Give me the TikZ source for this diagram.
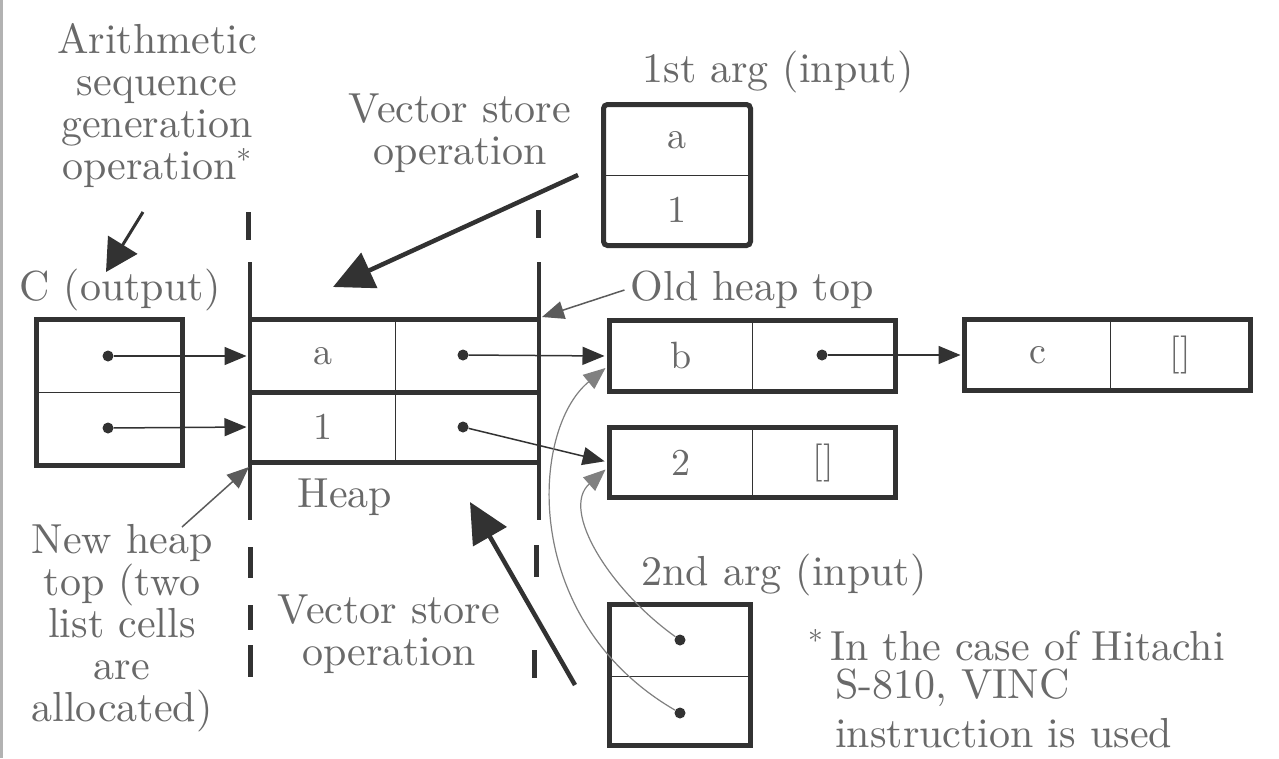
\documentclass[tikz,border=0pt]{standalone}
\usepackage{fontspec}
\setmainfont{lmroman10-regular.otf}
\usetikzlibrary{arrows.meta}
\definecolor{ink}{RGB}{50,50,50}
\definecolor{txt}{RGB}{105,105,105}
\begin{document}
\begin{tikzpicture}[x=1pt,y=-1pt,
  lbl/.style={text=txt, font=\fontsize{42}{42}\selectfont, inner sep=0pt, align=center},
  cell/.style={draw=ink, line width=1pt, inner sep=0pt, text=txt, font=\fontsize{38}{38}\selectfont},
  frame/.style={draw=ink, line width=4.5pt},
  ptr/.style={draw=ink, line width=1.5pt, -{Triangle[length=22pt,width=18pt]}},
  bigarrow/.style={draw=ink, line width=4.5pt, -{Triangle[length=40pt,width=38pt]}},
  dotc/.style={circle, fill=ink, inner sep=0pt, minimum size=11pt},
  dashseg/.style={draw=ink, line width=5pt}
]
\useasboundingbox (0,0) rectangle (1279,758);
\fill[white] (0,0) rectangle (1279,758);
\draw[gray!60, line width=3pt] (1.5,0) -- (1.5,758);

% ---------- labels ----------
\node[lbl] (arith) at (157,106) {Arithmetic\\sequence\\generation\\operation\textsuperscript{*}};
\node[lbl] (cout) at (120,290) {C (output)};
\node[lbl] (vs1) at (460,133) {Vector store\\operation};
\node[lbl] (arg1) at (778,72) {1st arg (input)};
\node[lbl] (oht) at (752,290) {Old heap top};
\node[lbl] (heap) at (345,497) {Heap};
\node[lbl] (arg2) at (784,575) {2nd arg (input)};
\node[lbl] (vs2) at (389,634) {Vector store\\operation};
\node[lbl] (nht) at (122,628) {New heap\\top (two\\list cells\\are\\allocated)};
\node[lbl, anchor=west] (fn1) at (808,645) {\textsuperscript{*}\,In the case of Hitachi};
\node[lbl, anchor=west] (fn2) at (835,688) {S-810, VINC};
\node[lbl, anchor=west] (fn3) at (835,733) {instruction is used};

% ---------- C (output) ----------
\node[cell, minimum width=145pt, minimum height=72pt] (cT) at (109.5,356) {};
\node[cell, minimum width=145pt, minimum height=73pt] (cB) at (109.5,428.5) {};
\draw[frame] (cT.north west) rectangle (cB.south east);
\node[dotc] (cd1) at (108,356) {};
\node[dotc] (cd2) at (108,428) {};

% ---------- heap ----------
\node[cell, minimum width=145pt, minimum height=72pt] (hTL) at (322.5,356) {a};
\node[cell, minimum width=145pt, minimum height=72pt] (hTR) at (467.5,356) {};
\node[cell, minimum width=145pt, minimum height=70pt] (hBL) at (322.5,427) {1};
\node[cell, minimum width=145pt, minimum height=70pt] (hBR) at (467.5,427) {};
\draw[frame] (hTL.north west) -- (hTR.north east);
\draw[frame] (hTL.south west) -- (hTR.south east);
\draw[frame] (hBL.south west) -- (hBR.south east);
\node[dotc] (hd1) at (463,355) {};
\node[dotc] (hd2) at (463,427) {};

% heap boundaries (new and old heap top)
\coordinate (lA) at (250,262); \coordinate (lB) at (250,520);
\coordinate (rA) at (539,262); \coordinate (rB) at (539,520);
\draw[frame] (lA) -- (lB);
\draw[frame] (rA) -- (rB);
\draw[dashseg] (248,212) -- (248,240);
\draw[dashseg] (538,210) -- (538,238);
\draw[dashseg] (250,547) -- (250,578);
\draw[dashseg] (250,605) -- (250,630);
\draw[dashseg] (250,645) -- (250,677);
\draw[dashseg] (536,545) -- (536,577);
\draw[dashseg] (534,650) -- (534,678);

% ---------- 1st arg ----------
\node[cell, minimum width=146pt, minimum height=70pt] (a1T) at (677,140) {a};
\node[cell, minimum width=146pt, minimum height=70pt] (a1B) at (677,210) {1};
\draw[frame, line width=5pt, rounded corners=4pt] (a1T.north west) rectangle (a1B.south east);

% ---------- list cells ----------
\node[cell, minimum width=142pt, minimum height=70pt] (bL) at (681,356) {b};
\node[cell, minimum width=143pt, minimum height=70pt] (bR) at (823.5,356) {};
\draw[frame] (bL.north west) rectangle (bR.south east);
\node[dotc] (bd) at (822,355) {};

\node[cell, minimum width=145pt, minimum height=70pt] (kL) at (1037.5,355) {c};
\node[cell, minimum width=140pt, minimum height=70pt] (kR) at (1180,355) {[]};
\draw[frame] (kL.north west) rectangle (kR.south east);

\node[cell, minimum width=142pt, minimum height=69pt] (tL) at (681,462.5) {2};
\node[cell, minimum width=143pt, minimum height=69pt] (tR) at (823.5,462.5) {[]};
\draw[frame] (tL.north west) rectangle (tR.south east);

% ---------- 2nd arg ----------
\node[cell, minimum width=140pt, minimum height=71pt] (a2T) at (680,640.5) {};
\node[cell, minimum width=140pt, minimum height=69pt] (a2B) at (680,710.5) {};
\draw[frame] (a2T.north west) rectangle (a2B.south east);
\node[dotc] (gd1) at (680,640) {};
\node[dotc] (gd2) at (680,713) {};

% ---------- pointers ----------
\draw[ptr, shorten >=3pt] (cd1) -- (hTL.west);
\draw[ptr, shorten >=3pt] (cd2) -- (hBL.west);
\draw[ptr, shorten >=5pt] (hd1) -- (bL.west);
\draw[ptr, shorten >=5pt] (hd2) -- (tL.west);
\draw[ptr, shorten >=4pt] (bd) -- (kL.west);
\draw[ptr, draw=gray, line width=1.2pt] (gd1) .. controls (610,590) and (560,510) .. ([yshift=-7pt, xshift=-4pt]tL.west);
\draw[ptr, draw=gray, line width=1.2pt] (gd2) .. controls (520,620) and (530,430) .. ([yshift=-12pt, xshift=-4pt]bL.west);

% ---------- operation arrows ----------
\coordinate (s1) at (578,175); \coordinate (e1) at (333,287);
\draw[bigarrow] (s1) -- (e1);
\coordinate (s2) at (575,685); \coordinate (e2) at (470,502);
\draw[bigarrow] (s2) -- (e2);
\coordinate (s3) at (143,212); \coordinate (e3) at (106,272);
\draw[draw=ink, line width=3pt, -{Triangle[length=32pt,width=34pt]}] (s3) -- (e3);

% heap top pointers
\coordinate (ohtEnd) at (542,317);
\draw[ptr, draw=ink!80] ([xshift=-6pt]oht.west) -- (ohtEnd);
\coordinate (nhtStart) at (182,527); \coordinate (nhtEnd) at (249,467);
\draw[ptr, draw=ink!80] (nhtStart) -- (nhtEnd);
\end{tikzpicture}
\end{document}
